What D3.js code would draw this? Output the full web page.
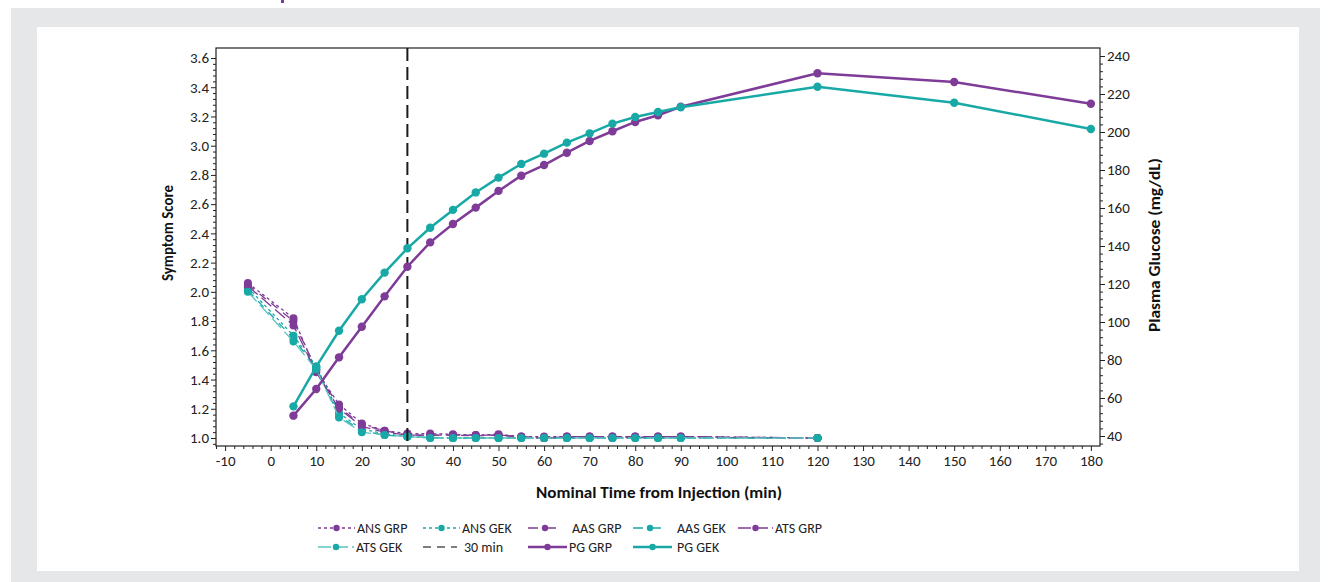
<!DOCTYPE html>
<html>
<head>
<meta charset="utf-8">
<script src="https://cdn.jsdelivr.net/npm/d3@7"></script>
<style>
  body { margin: 0; background: #ffffff; }
  svg { display: block; font-family: Carlito, Lato, "Open Sans", sans-serif; }
</style>
</head>
<body>
<svg id="chart" width="1331" height="582"></svg>
<script>
// data
var timePG = [5, 10, 15, 20, 25, 30, 35, 40, 45, 50, 55, 60, 65, 70, 75, 80, 85, 90, 120, 150, 180];
var pgGRP = [50.7, 64.7, 81.4, 97.5, 113.5, 129.1, 141.9, 151.6, 160.2, 169, 177, 182.6, 189.1, 195.3, 200.4, 205.3, 208.8, 213.3, 230.9, 226.3, 214.9];
var pgGEK = [55.6, 76.5, 95.4, 112, 126, 138.8, 149.6, 159, 168.2, 176, 183.2, 188.6, 194.4, 199.3, 204.4, 207.9, 210.5, 213, 223.8, 215.4, 201.6];

var timeSym = [-5, 5, 10, 15, 20, 25, 30, 35, 40, 45, 50, 55, 60, 65, 70, 75, 80, 85, 90, 120];
var ansGRP = [2.06, 1.82, 1.46, 1.23, 1.10, 1.05, 1.03, 1.03, 1.025, 1.02, 1.025, 1.01, 1.01, 1.01, 1.01, 1.01, 1.01, 1.01, 1.01, 1.0];
var ansGEK = [2.03, 1.70, 1.49, 1.17, 1.06, 1.03, 1.01, 1.0, 1.0, 1.0, 1.0, 1.0, 1.0, 1.0, 1.0, 1.0, 1.0, 1.0, 1.0, 1.0];
var aasGRP = [2.05, 1.80, 1.47, 1.21, 1.09, 1.05, 1.02, 1.02, 1.02, 1.015, 1.02, 1.005, 1.0, 1.005, 1.005, 1.0, 1.005, 1.005, 1.005, 1.0];
var aasGEK = [2.01, 1.68, 1.48, 1.15, 1.05, 1.02, 1.01, 1.005, 1.0, 1.0, 1.0, 1.0, 1.0, 1.0, 1.0, 1.0, 1.0, 1.0, 1.0, 1.0];
var atsGRP = [2.04, 1.77, 1.45, 1.20, 1.08, 1.04, 1.02, 1.02, 1.02, 1.02, 1.02, 1.01, 1.0, 1.01, 1.01, 1.01, 1.01, 1.01, 1.01, 1.0];
var atsGEK = [2.0, 1.66, 1.47, 1.14, 1.04, 1.02, 1.01, 1.0, 1.0, 1.0, 1.0, 1.0, 1.0, 1.0, 1.0, 1.0, 1.0, 1.0, 1.0, 1.0];

var xTicks = d3.range(-10, 181, 10);
var leftTicks = [1.0, 1.2, 1.4, 1.6, 1.8, 2.0, 2.2, 2.4, 2.6, 2.8, 3.0, 3.2, 3.4, 3.6];
var rightTicks = [40, 60, 80, 100, 120, 140, 160, 180, 200, 220, 240];
var cutoffTime = 30;

var purple = "#7e3b97";
var teal = "#18a9a7";

var svg = d3.select("#chart");

//page background panels
svg.append("rect").attr("x", 11).attr("y", 8).attr("width", 1309).attr("height", 574).attr("fill", "#e6e7e8");
svg.append("rect").attr("x", 37).attr("y", 27).attr("width", 1262).attr("height", 544).attr("fill", "#ffffff");
// bit of the page heading poking in at the top edge
svg.append("rect").attr("x", 281).attr("y", 0).attr("width", 3).attr("height", 3).attr("fill", purple);

var plotLeft = 216, plotRight = 1100, plotTop = 48, plotBottom = 446;

var x = d3.scaleLinear().domain([-12, 182]).range([plotLeft, plotRight]);
var yL = d3.scaleLinear().domain([1.0, 3.6]).range([438, 58]);
var yR = d3.scaleLinear().domain([40, 240]).range([436, 56]);

//axes, minor ticks first
var minor = function (axis, vals) {
  return axis.tickValues(vals).tickSize(3).tickFormat("");
};

var xMinor = d3.range(-12, 182, 2).filter(function (v) { return v % 10 !== 0; });
var lMinor = d3.range(0, 67).map(function (i) { return +(0.96 + i * 0.04).toFixed(2); })
  .filter(function (v) { return Math.round(v * 100) % 20 !== 0 && yL(v) >= plotTop && yL(v) <= plotBottom; });
var rMinor = d3.range(36, 244, 4).filter(function (v) { return v % 20 !== 0; });

var styleAxis = function (g) {
  g.select(".domain").remove();
  g.selectAll("line").attr("stroke", "#222");
  g.selectAll("text").attr("fill", "#222").style("font-size", "15px").style("font-family", "Carlito, Lato, sans-serif");
};

svg.append("g").attr("transform", "translate(0," + plotBottom + ")")
  .call(minor(d3.axisBottom(x), xMinor)).call(styleAxis);
svg.append("g").attr("transform", "translate(0," + plotBottom + ")")
  .call(d3.axisBottom(x).tickValues(xTicks).tickSize(5).tickPadding(4)
    .tickFormat(function (d) { return String(d); })).call(styleAxis);

svg.append("g").attr("transform", "translate(" + plotLeft + ",0)")
  .call(minor(d3.axisLeft(yL), lMinor)).call(styleAxis);
svg.append("g").attr("transform", "translate(" + plotLeft + ",0)")
  .call(d3.axisLeft(yL).tickValues(leftTicks).tickSize(5).tickPadding(2).tickFormat(d3.format(".1f"))).call(styleAxis);

svg.append("g").attr("transform", "translate(" + plotRight + ",0)")
  .call(minor(d3.axisRight(yR), rMinor)).call(styleAxis);
svg.append("g").attr("transform", "translate(" + plotRight + ",0)")
  .call(d3.axisRight(yR).tickValues(rightTicks).tickSize(5).tickPadding(2)).call(styleAxis);

//plot frame
svg.append("rect").attr("x", plotLeft).attr("y", plotTop)
  .attr("width", plotRight - plotLeft).attr("height", plotBottom - plotTop)
  .attr("fill", "none").attr("stroke", "#222").attr("stroke-width", 1.2);

//axis titles
var title = function (sel, len) {
  sel.attr("text-anchor", "middle").attr("fill", "#111")
    .style("font-size", "15px").style("font-weight", "bold");
  if (len) sel.attr("textLength", len).attr("lengthAdjust", "spacingAndGlyphs");
  return sel;
};
svg.append("text").attr("transform", "translate(173,233) rotate(-90)")
  .call(title, 96).text("Symptom Score");
svg.append("text").attr("transform", "translate(1160,245) rotate(-90)")
  .call(title, 174).text("Plasma Glucose (mg/dL)");
svg.append("text").attr("x", 659).attr("y", 498)
  .call(title, 246).text("Nominal Time from Injection (min)");

//symptom series (dashed)
var symSeries = [
  { name: "ANS GRP", values: ansGRP, color: purple, dash: "3,3" },
  { name: "ANS GEK", values: ansGEK, color: teal, dash: "3,3" },
  { name: "AAS GRP", values: aasGRP, color: purple, dash: "8,7" },
  { name: "AAS GEK", values: aasGEK, color: teal, dash: "8,7" },
  { name: "ATS GRP", values: atsGRP, color: purple, dash: "13,5" },
  { name: "ATS GEK", values: atsGEK, color: "#5cc3c0", dash: "13,5", dotColor: teal }
];

var symLine = d3.line()
  .x(function (d) { return x(d[0]); })
  .y(function (d) { return yL(d[1]); });

symSeries.forEach(function (s) {
  var pts = timeSym.map(function (t, i) { return [t, s.values[i]]; });
  svg.append("path").datum(pts).attr("d", symLine)
    .attr("fill", "none").attr("stroke", s.color).attr("stroke-width", 1.3).attr("stroke-dasharray", s.dash);
  svg.append("g").selectAll("circle").data(pts).enter().append("circle")
    .attr("cx", function (d) { return x(d[0]); })
    .attr("cy", function (d) { return yL(d[1]); })
    .attr("r", 4).attr("fill", s.dotColor || s.color);
});

//30 min reference line
svg.append("line").attr("x1", x(cutoffTime)).attr("x2", x(cutoffTime)).attr("y1", plotTop).attr("y2", plotBottom)
  .attr("stroke", "#1a1a1a").attr("stroke-width", 2).attr("stroke-dasharray", "13,6");

//plasma glucose series (solid)
var pgSeries = [
  { name: "PG GRP", values: pgGRP, color: purple },
  { name: "PG GEK", values: pgGEK, color: teal }
];

var pgLine = d3.line()
  .x(function (d) { return x(d[0]); })
  .y(function (d) { return yR(d[1]); });

pgSeries.forEach(function (s) {
  var pts = timePG.map(function (t, i) { return [t, s.values[i]]; });
  svg.append("path").datum(pts).attr("d", pgLine)
    .attr("fill", "none").attr("stroke", s.color).attr("stroke-width", 2.5);
  svg.append("g").selectAll("circle").data(pts).enter().append("circle")
    .attr("cx", function (d) { return x(d[0]); })
    .attr("cy", function (d) { return yR(d[1]); })
    .attr("r", 4.2).attr("fill", s.color);
});

//legend
var legendItems = [
  { name: "ANS GRP", color: purple, dash: "3,3", w: 1.3, dot: true, len: 37, row: 0, col: 0 },
  { name: "ANS GEK", color: teal, dash: "3,3", w: 1.3, dot: true, len: 37, row: 0, col: 1 },
  { name: "AAS GRP", color: purple, dash: "10,8", w: 1.3, dot: true, len: 34, row: 0, col: 2, gap: 10 },
  { name: "AAS GEK", color: teal, dash: "10,8", w: 1.3, dot: true, len: 34, row: 0, col: 3, gap: 10 },
  { name: "ATS GRP", color: purple, dash: "13,4", w: 1.3, dot: true, len: 35, row: 0, col: 4 },
  { name: "ATS GEK", color: "#5cc3c0", dash: "13,4", w: 1.3, dot: true, dotColor: teal, len: 36, row: 1, col: 0 },
  { name: "30 min", color: "#555", dash: "8,6", w: 1.3, dot: false, len: 34, row: 1, col: 1, gap: 7 },
  { name: "PG GRP", color: purple, dash: null, w: 2.5, dot: true, len: 39, row: 1, col: 2 },
  { name: "PG GEK", color: teal, dash: null, w: 2.5, dot: true, len: 39, row: 1, col: 3, gap: 5 }
];

var legend = svg.append("g");
legendItems.forEach(function (d) {
  var lx = 318 + d.col * 105;
  var ly = 528 + d.row * 19;
  legend.append("line").attr("x1", lx).attr("x2", lx + d.len).attr("y1", ly).attr("y2", ly)
    .attr("stroke", d.color).attr("stroke-width", d.w).attr("stroke-dasharray", d.dash);
  if (d.dot) {
    legend.append("circle").attr("cx", lx + d.len / 2).attr("cy", ly).attr("r", 3.2)
      .attr("fill", d.dotColor || d.color);
  }
  legend.append("text").attr("x", lx + d.len + (d.gap || 2)).attr("y", ly + 5)
    .style("font-size", "14px").attr("fill", "#222").text(d.name);
});
</script>
</body>
</html>
